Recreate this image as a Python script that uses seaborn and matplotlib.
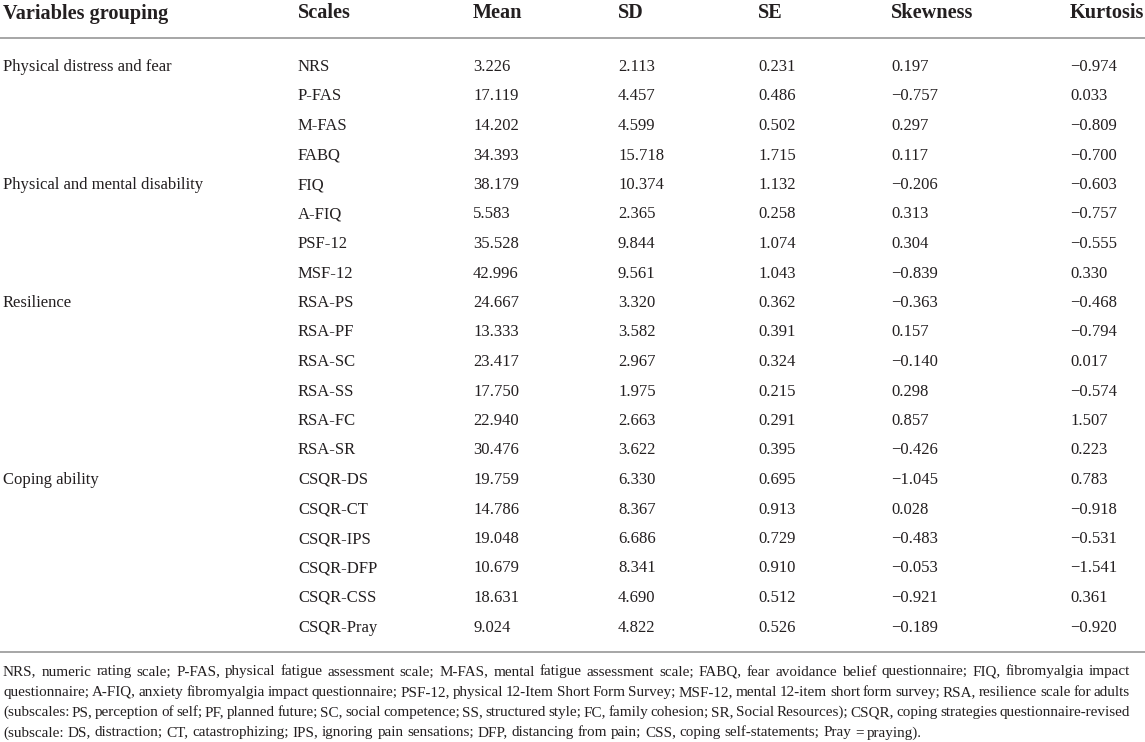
import numpy as np
import matplotlib
matplotlib.use("Agg")
import matplotlib.pyplot as plt
import seaborn as sns

# Table data
headers = ["Variables grouping", "Scales", "Mean", "SD", "SE", "Skewness", "Kurtosis"]
groups = {0: "Physical distress and fear", 4: "Physical and mental disability",
          8: "Resilience", 14: "Coping ability"}
scales = ["NRS", "P-FAS", "M-FAS", "FABQ", "FIQ", "A-FIQ", "PSF-12", "MSF-12",
          "RSA-PS", "RSA-PF", "RSA-SC", "RSA-SS", "RSA-FC", "RSA-SR",
          "CSQR-DS", "CSQR-CT", "CSQR-IPS", "CSQR-DFP", "CSQR-CSS", "CSQR-Pray"]
mean = [3.226, 17.119, 14.202, 34.393, 38.179, 5.583, 35.528, 42.996,
        24.667, 13.333, 23.417, 17.750, 22.940, 30.476,
        19.759, 14.786, 19.048, 10.679, 18.631, 9.024]
sd = [2.113, 4.457, 4.599, 15.718, 10.374, 2.365, 9.844, 9.561,
      3.320, 3.582, 2.967, 1.975, 2.663, 3.622,
      6.330, 8.367, 6.686, 8.341, 4.690, 4.822]
se = [0.231, 0.486, 0.502, 1.715, 1.132, 0.258, 1.074, 1.043,
      0.362, 0.391, 0.324, 0.215, 0.291, 0.395,
      0.695, 0.913, 0.729, 0.910, 0.512, 0.526]
skew = [0.197, -0.757, 0.297, 0.117, -0.206, 0.313, 0.304, -0.839,
        -0.363, 0.157, -0.140, 0.298, 0.857, -0.426,
        -1.045, 0.028, -0.483, -0.053, -0.921, -0.189]
kurt = [-0.974, 0.033, -0.809, -0.700, -0.603, -0.757, -0.555, 0.330,
        -0.468, -0.794, 0.017, -0.574, 1.507, 0.223,
        0.783, -0.918, -0.531, -1.541, 0.361, -0.920]

footnote = [
    "NRS, numeric rating scale; P-FAS, physical fatigue assessment scale; M-FAS, mental fatigue assessment scale; FABQ, fear avoidance belief questionnaire; FIQ, fibromyalgia impact",
    "questionnaire; A-FIQ, anxiety fibromyalgia impact questionnaire; PSF-12, physical 12-Item Short Form Survey; MSF-12, mental 12-item short form survey; RSA, resilience scale for adults",
    "(subscales: PS, perception of self; PF, planned future; SC, social competence; SS, structured style; FC, family cohesion; SR, Social Resources); CSQR, coping strategies questionnaire-revised",
    "(subscale: DS, distraction; CT, catastrophizing; IPS, ignoring pain sensations; DFP, distancing from pain; CSS, coping self-statements; Pray = praying).",
]

sns.set_style("white")
plt.rcParams['font.family'] = ['Liberation Serif', 'DejaVu Serif']

W, H = 1145, 742
fig = plt.figure(figsize=(W / 100, H / 100), dpi=100)
ax = fig.add_axes([0, 0, 1, 1])
ax.set_xlim(0, W)
ax.set_ylim(H, 0)
ax.axis("off")

txt = "#231f20"
col_x = [3, 298, 473, 618, 758, 891, 1070]
row_y0, row_dy = 65.5, 29.5
body_fs, head_fs, foot_fs = 12.0, 14.6, 10.9


def fmt(v):
    s = f"{abs(v):.3f}"
    return ("\u2212" + s) if v < 0 else s


# header
for x, h in zip(col_x, headers):
    ax.text(x, 18.5, h, fontsize=head_fs, fontweight="bold", color=txt, va="baseline", ha="left")
ax.axhline(38, color="#a6a6a6", lw=1.4)

# body
for i, sc in enumerate(scales):
    y = row_y0 + i * row_dy + 5.5
    if i in groups:
        ax.text(col_x[0], y, groups[i], fontsize=body_fs, color=txt, va="baseline")
    vals = [sc, fmt(mean[i]), fmt(sd[i]), fmt(se[i]), fmt(skew[i]), fmt(kurt[i])]
    for x, v in zip(col_x[1:], vals):
        ax.text(x, y, v, fontsize=body_fs, color=txt, va="baseline")

ax.axhline(652, color="#a6a6a6", lw=1.4)

# footnote, justified
renderer = fig.canvas.get_renderer()
left, right = 3, 1130
t1 = ax.text(0, 0, "a b", fontsize=foot_fs)
t2 = ax.text(0, 0, "ab", fontsize=foot_fs)
space_w = t1.get_window_extent(renderer).width - t2.get_window_extent(renderer).width
t1.remove()
t2.remove()
for j, line in enumerate(footnote):
    y = 671 + j * 20.3 + 4.5
    words = line.split(" ")
    objs = [ax.text(0, y, w, fontsize=foot_fs, color=txt, va="baseline") for w in words]
    widths = [o.get_window_extent(renderer).width for o in objs]
    if j < len(footnote) - 1:
        gap = (right - left - sum(widths)) / (len(words) - 1)
    else:
        gap = space_w
    x = left
    for o, w in zip(objs, widths):
        o.set_x(x)
        x += w + gap

fig.savefig("out.png", dpi=100)
